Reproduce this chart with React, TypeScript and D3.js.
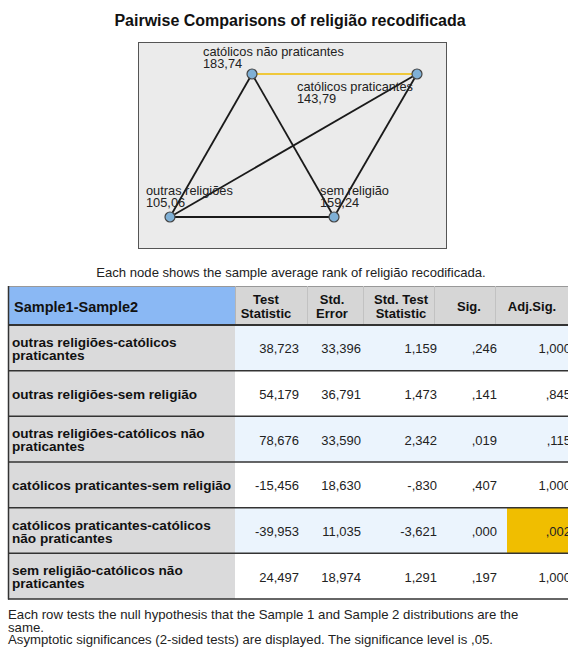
import React from "react";
import * as d3 from "d3";

// ---- data ----
const groups = ["outras religiões", "católicos praticantes", "sem religião", "católicos não praticantes"];
const meanRanks = [105.06, 143.79, 159.24, 183.74];

const sample1 = ["outras religiões", "outras religiões", "outras religiões", "católicos praticantes", "católicos praticantes", "sem religião"];
const sample2 = ["católicos praticantes", "sem religião", "católicos não praticantes", "sem religião", "católicos não praticantes", "católicos não praticantes"];
const testStatistic = [38.723, 54.179, 78.676, -15.456, -39.953, 24.497];
const stdError = [33.396, 36.791, 33.59, 18.63, 11.035, 18.974];
const stdTestStatistic = [1.159, 1.473, 2.342, -0.83, -3.621, 1.291];
const sig = [0.246, 0.141, 0.019, 0.407, 0.0, 0.197];
const adjSig = [1.0, 0.845, 0.115, 1.0, 0.002, 1.0];

const headerLabels = [["Test", "Statistic"], ["Std.", "Error"], ["Std. Test", "Statistic"], ["Sig."], ["Adj.Sig."]];
const footnotes = [
  "Each row tests the null hypothesis that the Sample 1 and Sample 2 distributions are the",
  "same.",
  "Asymptotic significances (2-sided tests) are displayed. The significance level is ,05.",
];
const alpha = 0.05;

// ---- layout ----
// node placement in a unit square, plus label offsets (px)
const nodeLayout: Record<string, { ux: number; uy: number; dx: number; dy: number }> = {
  "outras religiões": { ux: 0, uy: 1, dx: -24, dy: -22 },
  "católicos praticantes": { ux: 1, uy: 0, dx: -120, dy: 17 },
  "sem religião": { ux: 0.664, uy: 1, dx: -14, dy: -22 },
  "católicos não praticantes": { ux: 0.332, uy: 0, dx: -49, dy: -18 },
};

const FONT = "Arial, 'Liberation Sans', Helvetica, sans-serif";

// SPSS-style numbers: decimal comma, no leading zero, ASCII hyphen for negatives
const fmt3 = (v: number) => {
  let s = d3.format(".3f")(v).replace("\u2212", "-").replace(".", ",");
  s = s.replace(/^(-?)0,/, "$1,");
  return s;
};
const fmt2 = (v: number) => d3.format(".2f")(v).replace(".", ",");

function wrapLabel(label: string, maxLen: number): string[] {
  if (label.length <= maxLen) return [label];
  const cut = label.lastIndexOf(" ", maxLen);
  return [label.slice(0, cut), label.slice(cut + 1)];
}

export default function App() {
  const W = 568;
  const H = 648;

  const xNode = d3.scaleLinear().domain([0, 1]).range([170, 417]);
  const yNode = d3.scaleLinear().domain([0, 1]).range([74, 217]);
  const pos = (g: string) => ({ x: xNode(nodeLayout[g].ux), y: yNode(nodeLayout[g].uy) });

  // table geometry
  const tableLeft = 8;
  const tableRight = 585;
  const headerTop = 286;
  const headerBottom = 325;
  const tableBottom = 599;
  const rowIdx = d3.range(sample1.length);
  const yRow = d3.scaleBand<number>().domain(rowIdx).range([headerBottom, tableBottom]).paddingInner(0);
  const labelColRight = 235;
  const valueRight = [299, 361, 437, 497, 571];
  const headerCenters = [266, 332, 401, 469, 532];
  const headerSeps = [307, 363, 434, 495];
  const adjColLeft = 507;

  const columns = [testStatistic, stdError, stdTestStatistic, sig, adjSig];

  return (
    <svg
      width={W}
      height={H}
      style={{ position: "absolute", left: 0, top: 0, background: "#fff" }}
      fontFamily={FONT}
    >
      {/* title */}
      <text x={290} y={26} textAnchor="middle" fontSize={16} fontWeight="bold" fill="#111">
        Pairwise Comparisons of religião recodificada
      </text>

      {/* network panel */}
      <rect x={138.5} y={42.5} width={308} height={206} fill="#ebebeb" stroke="#555" strokeWidth={1} />
      {rowIdx.map((i) => {
        const a = pos(sample1[i]);
        const b = pos(sample2[i]);
        const significant = adjSig[i] < alpha;
        return (
          <line
            key={`e${i}`}
            x1={a.x}
            y1={a.y}
            x2={b.x}
            y2={b.y}
            stroke={significant ? "#f0bd00" : "#1a1a1a"}
            strokeWidth={significant ? 1.6 : 1.8}
          />
        );
      })}
      {groups.map((g, i) => {
        const p = pos(g);
        const l = nodeLayout[g];
        return (
          <g key={g}>
            <circle cx={p.x} cy={p.y} r={5} fill="#7fb0d6" stroke="#444" strokeWidth={1.2} />
            <text x={p.x + l.dx} y={p.y + l.dy} fontSize={12.8} fill="#222">
              {g}
            </text>
            <text x={p.x + l.dx} y={p.y + l.dy + 12} fontSize={12.8} fill="#222">
              {fmt2(meanRanks[i])}
            </text>
          </g>
        );
      })}

      <text x={291} y={277} textAnchor="middle" fontSize={13.1} fill="#222">
        Each node shows the sample average rank of religião recodificada.
      </text>

      {/* table header */}
      <rect x={tableLeft} y={headerTop} width={labelColRight - tableLeft} height={headerBottom - headerTop} fill="#8ab8f4" />
      <rect x={labelColRight} y={headerTop} width={tableRight - labelColRight} height={headerBottom - headerTop} fill="#d6d6d6" />
      <line x1={tableLeft} x2={tableRight} y1={headerTop + 0.5} y2={headerTop + 0.5} stroke="#999" strokeWidth={1} />
      <line x1={labelColRight + 0.5} x2={labelColRight + 0.5} y1={headerTop} y2={headerBottom} stroke="#b5b5b5" />
      {headerSeps.map((x) => (
        <line key={`hs${x}`} x1={x + 0.5} x2={x + 0.5} y1={headerTop} y2={headerBottom} stroke="#c2c2c2" />
      ))}
      <text x={14} y={(headerTop + headerBottom) / 2 + 1} dominantBaseline="central" fontSize={14.5} fontWeight="bold" fill="#111">
        Sample1-Sample2
      </text>
      {headerLabels.map((lines, j) =>
        lines.map((t, k) => (
          <text
            key={`h${j}-${k}`}
            x={headerCenters[j]}
            y={(headerTop + headerBottom) / 2 + 1 + (k - (lines.length - 1) / 2) * 14}
            dominantBaseline="central"
            textAnchor="middle"
            fontSize={13}
            fontWeight="bold"
            fill="#111"
          >
            {t}
          </text>
        ))
      )}

      {/* table body */}
      {rowIdx.map((i) => {
        const y0 = yRow(i)!;
        const h = yRow.bandwidth();
        const cy = y0 + h / 2;
        const lines = wrapLabel(`${sample1[i]}-${sample2[i]}`, 34);
        return (
          <g key={`r${i}`}>
            <rect x={tableLeft} y={y0} width={labelColRight - tableLeft} height={h} fill="#dadadb" />
            <rect x={labelColRight} y={y0} width={tableRight - labelColRight} height={h} fill={i % 2 === 0 ? "#ebf4fd" : "#ffffff"} />
            {adjSig[i] < alpha && (
              <rect x={adjColLeft} y={y0} width={tableRight - adjColLeft} height={h} fill="#f0be00" />
            )}
            {lines.map((t, k) => (
              <text
                key={`l${k}`}
                x={12}
                y={cy + 1 + (k - (lines.length - 1) / 2) * 13}
                dominantBaseline="central"
                fontSize={13.6}
                fontWeight="bold"
                fill="#111"
              >
                {t}
              </text>
            ))}
            {columns.map((col, j) => (
              <text
                key={`v${j}`}
                x={valueRight[j]}
                y={cy + 1}
                dominantBaseline="central"
                textAnchor="end"
                fontSize={13}
                fill="#222"
              >
                {fmt3(col[i])}
              </text>
            ))}
          </g>
        );
      })}
      {/* row rules */}
      {rowIdx.map((i) => (
        <line
          key={`rl${i}`}
          x1={tableLeft}
          x2={tableRight}
          y1={yRow(i)!}
          y2={yRow(i)!}
          stroke="#333"
          strokeWidth={i === 0 ? 2 : 1.5}
        />
      ))}
      <line x1={tableLeft} x2={tableRight} y1={tableBottom} y2={tableBottom} stroke="#333" strokeWidth={1.5} />
      <line x1={tableLeft + 0.5} x2={tableLeft + 0.5} y1={headerTop} y2={tableBottom + 0.5} stroke="#333" strokeWidth={1.5} />

      {/* footnotes */}
      {footnotes.map((t, k) => (
        <text key={`f${k}`} x={8} y={619 + k * 12.5} fontSize={13.2} fill="#222">
          {t}
        </text>
      ))}
    </svg>
  );
}
